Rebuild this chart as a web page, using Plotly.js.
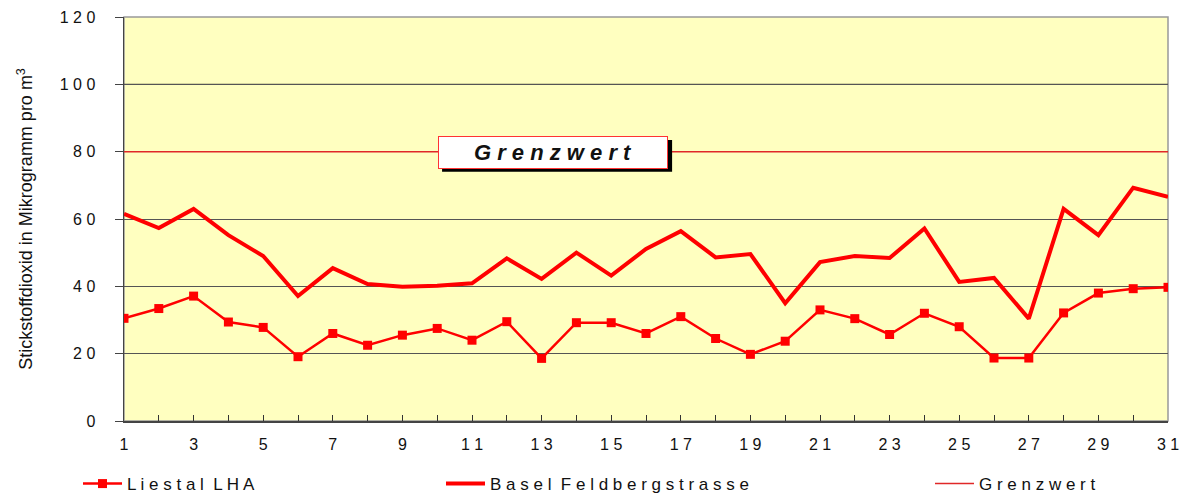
<!DOCTYPE html>
<html>
<head>
<meta charset="utf-8">
<script src="https://cdn.plot.ly/plotly-3.0.1.min.js"></script>
<style>
  html, body { margin: 0; padding: 0; background: #fff; }
  #chart { width: 1186px; height: 499px; }
</style>
</head>
<body>
<div id="chart"></div>
<script>
const days = [1,2,3,4,5,6,7,8,9,10,11,12,13,14,15,16,17,18,19,20,21,22,23,24,25,26,27,28,29,30,31];
const liestal = [30.5,33.4,37.1,29.4,27.8,19.1,26.0,22.5,25.5,27.5,24.0,29.5,18.6,29.2,29.2,26.0,31.0,24.5,19.8,23.7,33.0,30.4,25.7,32.0,28.0,18.7,18.7,32.1,38.0,39.3,39.7];
const basel = [61.5,57.3,63.0,55.2,49.0,37.1,45.4,40.7,39.9,40.2,40.9,48.3,42.2,50.0,43.2,51.1,56.4,48.6,49.6,35.0,47.2,49.0,48.4,57.2,41.3,42.5,30.4,63.0,55.2,69.3,66.6];
const grenzwert = days.map(() => 80);
const yTickVals = [0,20,40,60,80,100,120];
const yTickText = ["0","2 0","4 0","6 0","8 0","1 0 0","1 2 0"];
const xTickText = days.map(d => (d % 2 === 1) ? String(d).split("").join(" ") : "");
const seriesNames = ["L i e s t a l \u00a0L H A", "B a s e l \u00a0F e l d b e r g s t r a s s e", "G r e n z w e r t"];
const boxLabel = "G r e n z w e r t";

const traces = [
  {
    x: days, y: grenzwert, name: seriesNames[2], mode: "lines",
    line: { color: "#e02828", width: 1.5 }, legend: "legend3", hoverinfo: "skip"
  },
  {
    x: days, y: basel, name: seriesNames[1], mode: "lines",
    line: { color: "#ff0000", width: 4 }, legend: "legend2"
  },
  {
    x: days, y: liestal, name: seriesNames[0], mode: "lines+markers",
    line: { color: "#ff0000", width: 2.5 },
    marker: { symbol: "square", size: 9, color: "#ff0000" }, legend: "legend"
  }
];

const legendFont = { family: "Liberation Sans, Arial, sans-serif", size: 17, color: "#111" };
const legendBase = {
  xref: "container", yref: "container", yanchor: "middle", y: 0.03,
  orientation: "h", bgcolor: "rgba(0,0,0,0)", borderwidth: 0, font: legendFont,
  itemwidth: 39
};

const layout = {
  width: 1186, height: 499,
  margin: { l: 124, r: 18, t: 17, b: 78 },
  paper_bgcolor: "#ffffff",
  plot_bgcolor: "#ffffc0",
  showlegend: true,
  legend: Object.assign({}, legendBase, { x: 78 / 1186 }),
  legend2: Object.assign({}, legendBase, { x: 441 / 1186 }),
  legend3: Object.assign({}, legendBase, { x: 930 / 1186 }),
  xaxis: {
    range: [1, 31], tickmode: "array", tickvals: days, ticktext: xTickText,
    ticks: "inside", ticklen: 6, tickcolor: "#333", tickwidth: 1,
    showgrid: false, zeroline: false,
    showline: true, linecolor: "#444", linewidth: 1.5,
    ticklabelstandoff: 8,
    tickfont: { family: "Liberation Sans, Arial, sans-serif", size: 16, color: "#111" },
    fixedrange: true
  },
  yaxis: {
    range: [0, 120], tickmode: "array", tickvals: yTickVals, ticktext: yTickText,
    ticks: "outside", ticklen: 8, tickcolor: "#444", tickwidth: 1,
    showgrid: true, gridcolor: "#555", gridwidth: 1,
    zeroline: false, showline: true, linecolor: "#444", linewidth: 1.5,
    ticklabelstandoff: 16,
    tickfont: { family: "Liberation Sans, Arial, sans-serif", size: 16, color: "#111" },
    title: {
      text: "Stickstoffdioxid in Mikrogramm pro m<sup>3</sup>",
      font: { family: "Liberation Sans, Arial, sans-serif", size: 18, color: "#111" },
      standoff: 22
    },
    automargin: false,
    fixedrange: true
  },
  shapes: [
    { type: "rect", xref: "paper", yref: "paper", x0: 0, x1: 1, y0: 0, y1: 1,
      line: { color: "#999", width: 1.5 }, layer: "below" },
    { type: "line", xref: "paper", yref: "y", x0: 0, x1: 1, y0: 100, y1: 100,
      line: { color: "#000", width: 1 }, layer: "below" },
    { type: "rect", xref: "x", yref: "y", x0: 10.14, x1: 16.75, y0: 74.0, y1: 83.5,
      fillcolor: "#000", line: { width: 0 }, layer: "above" }
  ],
  annotations: [
    {
      xref: "x", yref: "y", x: 13.33, y: 79.7,
      text: boxLabel, showarrow: false,
      width: 228, height: 31, bgcolor: "#ffffff", bordercolor: "#ff3333", borderwidth: 1, borderpad: 0,
      font: { family: "Liberation Sans, Arial, sans-serif", size: 22, color: "#111", style: "italic", weight: "bold" }
    }
  ]
};

Plotly.newPlot("chart", traces, layout, { displayModeBar: false, staticPlot: true });
</script>
</body>
</html>
